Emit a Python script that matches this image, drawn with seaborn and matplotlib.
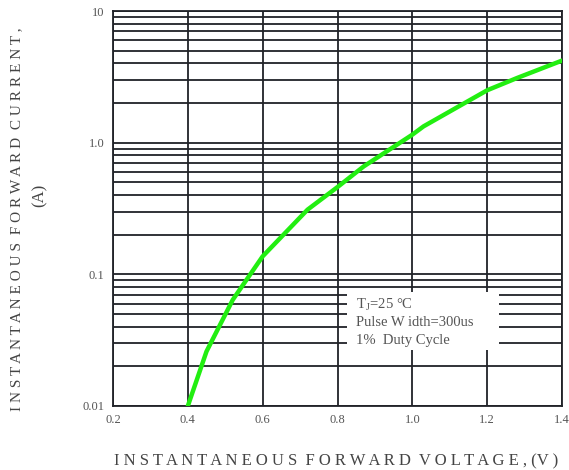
import matplotlib
matplotlib.use("Agg")
import matplotlib.pyplot as plt
from matplotlib.patches import Rectangle
from matplotlib.ticker import FixedLocator, LogLocator, NullFormatter
import seaborn as sns
import pandas as pd

# data
voltage = [0.40, 0.45, 0.52, 0.60, 0.72, 0.80, 0.87, 1.00, 1.03, 1.20, 1.28, 1.40]
current = [0.010, 0.026, 0.064, 0.137, 0.31, 0.46, 0.66, 1.15, 1.33, 2.5, 3.1, 4.2]
x_ticks = [0.2, 0.4, 0.6, 0.8, 1.0, 1.2, 1.4]
x_tick_labels = ["0.2", "0.4", "0.6", "0.8", "1.0", "1.2", "1.4"]
y_ticks = [0.01, 0.1, 1.0, 10]
y_tick_labels = ["0.01", "0.1", "1.0", "10"]
note_lines = ["T$_\\mathregular{J}$=25 °C", "Pulse W idth=300us", "1%  Duty Cycle"]

df = pd.DataFrame({"V": voltage, "I": current})

sns.set_style("white")
plt.rcParams["font.family"] = ["Liberation Serif", "DejaVu Serif", "DejaVu Sans"]
plt.rcParams["mathtext.fontset"] = "custom"
plt.rcParams["mathtext.rm"] = "Liberation Serif"

fig = plt.figure(figsize=(5.69, 4.70), dpi=100)
ax = fig.add_axes([113 / 569, 64 / 470, 449 / 569, 395 / 470])

sns.lineplot(data=df, x="V", y="I", ax=ax, color="#22ee11", linewidth=3.2, zorder=3)

ax.set_yscale("log")
ax.set_xlim(0.2, 1.4)
ax.set_ylim(0.01, 10)
ax.xaxis.set_major_locator(FixedLocator(x_ticks))
ax.set_xticklabels(x_tick_labels)
ax.yaxis.set_major_locator(FixedLocator(y_ticks))
ax.set_yticklabels(y_tick_labels)
ax.yaxis.set_minor_locator(LogLocator(base=10, subs=range(2, 10)))
ax.yaxis.set_minor_formatter(NullFormatter())

ax.set_axisbelow(True)
ax.grid(True, which="major", axis="both", color="#202228", linewidth=1.3)
ax.grid(True, which="minor", axis="y", color="#202228", linewidth=1.3)
ax.tick_params(axis="both", which="both", length=0, labelsize=9, labelcolor="#555555", pad=6)
for s in ax.spines.values():
    s.set_color("#202228")
    s.set_linewidth(1.3)

ax.set_xlabel("")
ax.set_ylabel("")

# annotation box
ax.add_patch(Rectangle((0.521, 0.142), 0.339, 0.147, transform=ax.transAxes,
                       facecolor="white", edgecolor="none", zorder=2))
for i, t in enumerate(note_lines):
    ax.text(0.542, 0.256 - i * 0.045, t, transform=ax.transAxes, fontsize=10.5,
            color="#555555", va="center", ha="left", zorder=4)

fig.text(336 / 569, 1 - 461 / 470,
         "I N S T A N T A N E O U S  F O R W A R D  V O L T A G E , (V )",
         ha="center", va="center", fontsize=12, color="#444444")
fig.text(17 / 569, 1 - 219 / 470,
         "I N S T A N T A N E O U S  F O R W A R D  C U R R E N T ,",
         ha="center", va="center", rotation=90, fontsize=11, color="#444444")
fig.text(40 / 569, 1 - 195 / 470, "(A)", ha="center", va="center", rotation=90,
         fontsize=12, color="#444444")

fig.savefig("out.png", dpi=100)
